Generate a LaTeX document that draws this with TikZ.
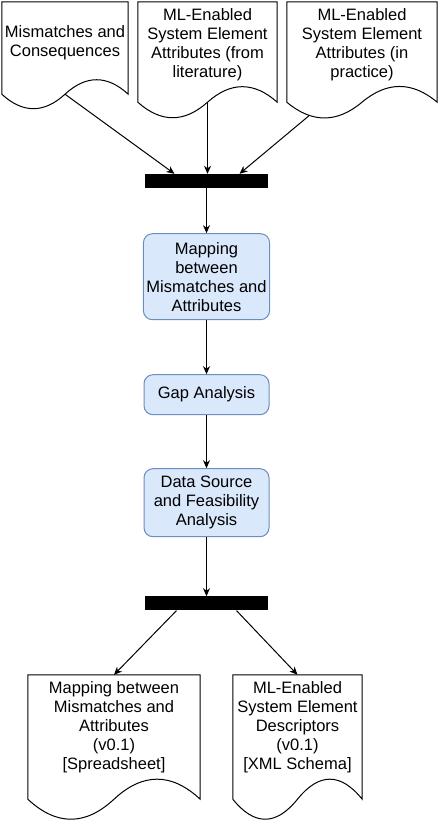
\documentclass[tikz,border=0pt]{standalone}
\usepackage{fontspec}
\setmainfont{Liberation Sans}
\usetikzlibrary{
        arrows.meta,
        calc,
        positioning
    }
\definecolor{boxfill}{HTML}{DAE8FC}
\definecolor{boxline}{HTML}{6C8EBF}
\tikzset{>={Stealth[length=8pt,width=7pt,inset=2.5pt]},auto,node distance=2cm}
\tikzset{
        every node/.style={font=\fontsize{16.5}{19}\selectfont, align=center},
        doc/.style={inner sep=0pt},
        process/.style={draw=boxline, fill=boxfill, line width=1pt, rounded corners=9pt,
            minimum width=125pt, inner sep=3pt},
        bar/.style={fill=black, minimum width=123pt, minimum height=14pt, inner sep=0pt}
    }
% wavy bottom of a document: name, drop, sixth of width, bulge
\newcommand{\docwave}[4]{%
    \draw[line width=1pt] (#1.north west) -- (#1.north east) -- ([yshift=-#2pt]#1.south east)
        .. controls +(-#3,-#4) and +(#3,-#4) .. ([yshift=-#2pt]#1.south) coordinate (#1-mid)
        .. controls +(-#3,#4) and +(#3,#4) .. coordinate[pos=0.7] (#1-low) ([yshift=-#2pt]#1.south west)
        -- cycle;
}

\begin{document}
\begin{tikzpicture}[x=1pt,y=-1pt]
                \useasboundingbox (0,0) rectangle (438,823);
                \node[doc, minimum width=126pt, minimum height=81pt] (d1) at (65,42.5) {Mismatches and\\Consequences};
                \node[doc, minimum width=139pt, minimum height=85pt] (d2) at (207.5,44.5) {ML-Enabled\\System Element\\Attributes (from\\literature)};
                \node[doc, minimum width=150pt, minimum height=85pt] (d3) at (362,44.5) {ML-Enabled\\System Element\\Attributes (in\\practice)};
                \node[bar] (bar1) at (206.5,181) {};
                \node[process, minimum height=86pt] (map) [below=45pt of bar1] {Mapping\\between\\Mismatches and\\Attributes};
                \node[process, minimum height=40pt] (gap) [below=54pt of map] {Gap Analysis};
                \node[process, minimum height=68pt] (feas) [below=53pt of gap] {Data Source\\and Feasibility\\Analysis};
                \node[bar] (bar2) [below=59pt of feas] {};
                \node[doc, minimum width=172pt, minimum height=104pt] (d4) at (114,727) {Mapping between\\Mismatches and\\Attributes\\(v0.1)\\{[Spreadsheet]}};
                \node[doc, minimum width=129pt, minimum height=104pt] (d5) at (297.5,727) {ML-Enabled\\System Element\\Descriptors\\(v0.1)\\{[XML Schema]}};
                \docwave{d1}{11}{21}{19.3}
                \docwave{d2}{15}{23.2}{20.7}
                \docwave{d3}{15}{25}{21}
                \docwave{d4}{20}{28.7}{26.7}
                \docwave{d5}{20}{21.5}{26.7}
            \path[->, line width=1pt]
                    (d1-mid) edge ([xshift=-32pt]bar1.north)
                    (d2-mid) edge (d2-mid |- bar1.north)
                    (d3-low) edge ([xshift=33pt]bar1.north)
                    (bar1) edge (map)
                    (map) edge (gap)
                    (gap) edge (feas)
                    (feas) edge (bar2)
                    ([xshift=-30pt]bar2.south) edge (d4.north)
                    ([xshift=30pt]bar2.south) edge (d5.north);
            \end{tikzpicture}
\end{document}
